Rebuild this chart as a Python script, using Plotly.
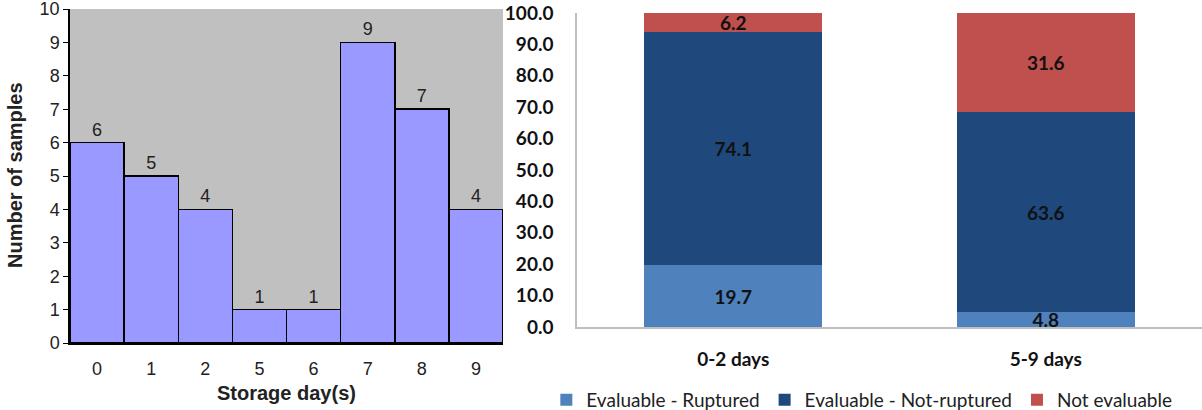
import plotly.graph_objects as go

# Left panel: number of samples per storage day
storage_days = ["0", "1", "2", "5", "6", "7", "8", "9"]
sample_counts = [6, 5, 4, 1, 1, 9, 7, 4]

# Right panel: outcome percentages per storage group
groups = ["0-2 days", "5-9 days"]
ruptured = [19.7, 4.8]
not_ruptured = [74.1, 63.6]
not_evaluable = [6.2, 31.6]

W, H = 1202, 410
LEFT_FONT = "Liberation Sans, Arial, sans-serif"
RIGHT_FONT = "Lato, Open Sans, sans-serif"

fig = go.Figure()

fig.add_trace(go.Bar(
    x=storage_days, y=sample_counts, width=1.0,
    marker=dict(color="#9999FF", line=dict(color="black", width=1.5)),
    text=[str(v) for v in sample_counts], textposition="outside",
    textfont=dict(family=LEFT_FONT, size=18, color="#222"),
    cliponaxis=False, showlegend=False,
    xaxis="x", yaxis="y",
))

series = [
    ("Evaluable - Ruptured", ruptured, "#4F81BD"),
    ("Evaluable - Not-ruptured", not_ruptured, "#1F497D"),
    ("Not evaluable", not_evaluable, "#C0504D"),
]
for name, vals, col in series:
    fig.add_trace(go.Bar(
        x=groups, y=vals, name=name, width=0.57,
        marker=dict(color=col, line=dict(width=0)),
        text=[f"{v:.1f}" for v in vals], textposition="inside",
        insidetextanchor="middle", constraintext="none",
        textfont=dict(family=RIGHT_FONT, size=19, color="#111", weight="bold"),
        cliponaxis=False,
        xaxis="x2", yaxis="y2",
    ))

title_font = dict(family=LEFT_FONT, size=20, color="#222")

fig.update_layout(
    width=W, height=H,
    margin=dict(l=0, r=0, t=0, b=0, autoexpand=False),
    paper_bgcolor="white", plot_bgcolor="rgba(0,0,0,0)",
    barmode="stack",
    xaxis=dict(
        domain=[70 / W, 503 / W], type="category", automargin=False,
        showline=True, linecolor="black", linewidth=1.5,
        ticks="", showgrid=False, ticklabelstandoff=9,
        ticklabeloverflow="allow",
        tickfont=dict(family=LEFT_FONT, size=18, color="#222"),
    ),
    yaxis=dict(
        domain=[(H - 343) / H, (H - 9) / H], range=[0, 10], dtick=1,
        automargin=False, ticklabeloverflow="allow",
        showline=True, linecolor="black", linewidth=1.5,
        ticks="outside", ticklen=5, tickcolor="black", showgrid=False,
        zeroline=False,
        tickfont=dict(family=LEFT_FONT, size=18, color="#222"),
    ),
    xaxis2=dict(
        domain=[577 / W, 1.0], type="category", anchor="y2", automargin=False,
        showline=True, linecolor="#BFBFBF", linewidth=1.5,
        ticks="", showgrid=False, ticklabelstandoff=14,
        ticklabeloverflow="allow",
        tickfont=dict(family=RIGHT_FONT, size=19, color="#111", weight="bold"),
    ),
    yaxis2=dict(
        domain=[(H - 327) / H, (H - 13) / H], range=[0, 100], dtick=10,
        anchor="x2", tickformat=".1f", automargin=False,
        ticklabeloverflow="allow",
        showline=True, linecolor="#BFBFBF", linewidth=1.5,
        ticks="", showgrid=False, zeroline=False, ticklabelstandoff=18,
        tickfont=dict(family=RIGHT_FONT, size=19, color="#111", weight="bold"),
    ),
    legend=dict(
        orientation="h", x=0.717, xanchor="center",
        y=10 / H, yanchor="middle",
        font=dict(family=RIGHT_FONT, size=19, color="#222"),
        traceorder="normal", itemclick=False,
    ),
    shapes=[dict(
        type="rect", xref="x domain", yref="y domain",
        x0=0, x1=1, y0=0, y1=1, fillcolor="#C0C0C0",
        line=dict(width=0), layer="below",
    )],
    annotations=[
        # axis titles for the left panel
        dict(text="<b>Storage day(s)</b>", xref="paper", yref="paper",
             x=286 / W, y=(H - 393) / H, xanchor="center", yanchor="middle",
             showarrow=False, font=title_font),
        dict(text="<b>Number of samples</b>", xref="paper", yref="paper",
             x=15 / W, y=(H - 175) / H, xanchor="center", yanchor="middle",
             textangle=-90, showarrow=False, font=title_font),
    ],
)

fig.write_html("out.html")
